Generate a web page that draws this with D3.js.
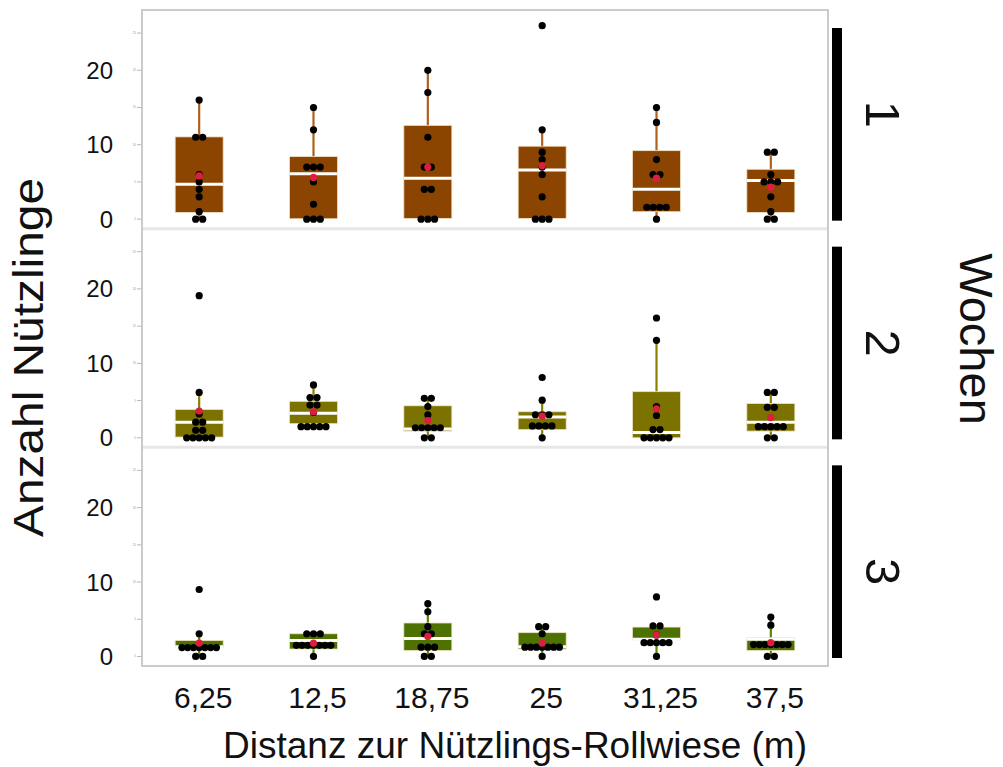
<!DOCTYPE html>
<html>
<head>
<meta charset="utf-8">
<script src="https://cdn.jsdelivr.net/npm/d3@7"></script>
<style>
  body { margin: 0; background: #fff; }
  text { font-family: "Liberation Sans", Arial, sans-serif; }
</style>
</head>
<body>
<svg id="chart" width="1003" height="767"></svg>
<script>
// Categories: distance to the flower strip, and sampling week
const distances = ["6,25", "12,5", "18,75", "25", "31,25", "37,5"];
const weeks = ["1", "2", "3"];

// Axis ticks
const yTicks = [0, 5, 10, 15, 20, 25];
const yLabelTicks = [0, 10, 20];

// Individual counts per week (rows) and distance (columns)
const points = [
  [
    [0, 0, 1, 3, 4, 5, 6, 11, 11, 16],
    [0, 0, 0, 2, 5, 7, 7, 7, 12, 15],
    [0, 0, 0, 4, 4, 7, 7, 11, 17, 20],
    [0, 0, 0, 3, 6, 7, 8, 9, 12, 26],
    [0, 1.6, 1.6, 1.6, 1.6, 6, 6, 8, 13, 15],
    [0, 0, 1, 3, 5, 5, 5, 6, 9, 9]
  ],
  [
    [0, 0, 0, 0, 0, 1, 1, 2.1, 2.1, 3.2, 6.1, 19.1],
    [1.5, 1.5, 1.5, 1.5, 1.5, 3.4, 4.4, 4.4, 5.4, 5.4, 7.1],
    [0, 0, 1.35, 1.35, 1.35, 1.35, 1.35, 3.1, 4.2, 5.3, 5.3],
    [0, 1.6, 1.6, 1.6, 1.6, 3.1, 3.1, 3.1, 5.05, 8.1],
    [0, 0, 0, 0, 0, 1.1, 1.1, 3, 4.2, 13.1, 16.1],
    [0, 0, 1.5, 1.5, 1.5, 1.5, 1.5, 4.1, 4.1, 6.1, 6.1]
  ],
  [
    [0, 0, 1.2, 1.2, 1.2, 1.2, 1.2, 1.2, 1.2, 3.05, 9],
    [0, 1.5, 1.5, 1.5, 1.5, 1.5, 1.5, 1.5, 3.05, 3.05, 3.05],
    [0, 0, 1.25, 1.25, 1.25, 3.05, 3.05, 4, 6, 7.1],
    [0, 1.25, 1.25, 1.25, 1.25, 1.25, 1.25, 1.25, 3.05, 4, 4],
    [0, 1.85, 1.85, 1.85, 1.85, 1.85, 2.9, 4.1, 4.1, 8],
    [0, 0, 1.6, 1.6, 1.6, 1.6, 1.6, 1.6, 1.6, 4.2, 5.3]
  ]
];

// Box statistics per week and distance
const q1 = [
  [0.9, 0.05, 0.1, 0.1, 1.0, 0.9],
  [0.1, 1.9, 0.9, 1.1, 0.0, 0.9],
  [1.2, 1.0, 0.8, 1.0, 2.2, 0.8]
];
const medians = [
  [4.7, 6.1, 5.5, 6.6, 4.0, 5.2],
  [2.1, 3.3, 1.2, 2.8, 0.7, 2.1],
  [1.3, 2.15, 2.4, 1.3, 2.3, 2.3]
];
const q3 = [
  [11.05, 8.4, 12.6, 9.8, 9.2, 6.7],
  [3.8, 4.9, 4.3, 3.5, 6.2, 4.6],
  [2.15, 3.05, 4.5, 3.2, 3.95, 2.5]
];
const whiskerLow = [
  [0, 0, 0, 0, 0, 0],
  [0, 1.5, 0, 0, 0, 0],
  [0, 0, 0, 0, 0, 0]
];
const whiskerHigh = [
  [16, 15, 20, 12, 15, 9],
  [6.1, 7.1, 5.3, 5.05, 13.1, 6.1],
  [3.05, 3.05, 7.1, 4, 4.1, 5.3]
];
const means = [
  [5.8, 5.6, 7.0, 7.2, 5.5, 4.3],
  [3.6, 3.5, 2.3, 2.9, 3.9, 2.7],
  [1.8, 1.8, 2.7, 1.8, 2.9, 1.85]
];

// Styling per week
const boxFill = ["#8b4500", "#7b7200", "#4e7200"];
const whiskerColor = ["#b0601c", "#8a8000", "#5c8800"];

const svg = d3.select("#chart");

const plotLeft = 142, plotRight = 828, plotTop = 10, plotBottom = 666;

const x = d3.scaleBand().domain(distances).range([plotLeft, plotRight]).padding(0);
const panel = d3.scaleBand().domain(weeks).range([plotTop, plotBottom]).padding(0);
const boxWidth = x.bandwidth() * 0.42;
const r = 3.6;

weeks.forEach((wk, wi) => {
  const top = panel(wk), bottom = top + panel.bandwidth();
  const y = d3.scaleLinear().domain([-1.28, 28.1]).range([bottom, top]);
  const g = svg.append("g").attr("class", "panel-" + wk);

  // small tick marks and their tiny labels
  g.selectAll(".tick").data(yTicks).join("line")
    .attr("x1", plotLeft - 5).attr("x2", plotLeft)
    .attr("y1", d => y(d)).attr("y2", d => y(d))
    .attr("stroke", "#b8b8b8").attr("stroke-width", 1);
  g.selectAll(".tinylab").data(yTicks).join("text")
    .attr("x", plotLeft - 6).attr("y", d => y(d))
    .attr("text-anchor", "end").attr("dominant-baseline", "central")
    .attr("font-size", 3).attr("fill", "#999")
    .text(d => d);

  // tick labels
  g.selectAll(".ylab").data(yLabelTicks).join("text")
    .attr("x", 113).attr("y", d => y(d))
    .attr("text-anchor", "end").attr("dominant-baseline", "central")
    .attr("font-size", 24).attr("fill", "#111")
    .text(d => d);

  distances.forEach((dist, di) => {
    const cx = x(dist) + x.bandwidth() / 2;
    const gg = g.append("g");

    // whisker
    gg.append("line")
      .attr("x1", cx).attr("x2", cx)
      .attr("y1", y(whiskerLow[wi][di])).attr("y2", y(whiskerHigh[wi][di]))
      .attr("stroke", whiskerColor[wi]).attr("stroke-width", 2.2);

    // box
    gg.append("rect")
      .attr("x", cx - boxWidth / 2).attr("width", boxWidth)
      .attr("y", y(q3[wi][di])).attr("height", y(q1[wi][di]) - y(q3[wi][di]))
      .attr("fill", boxFill[wi])
      .attr("stroke", "#efe2c4").attr("stroke-width", 0.8);

    // median
    gg.append("line")
      .attr("x1", cx - boxWidth / 2).attr("x2", cx + boxWidth / 2)
      .attr("y1", y(medians[wi][di])).attr("y2", y(medians[wi][di]))
      .attr("stroke", "#fff").attr("stroke-width", 3);

    // individual values, spread sideways where they coincide
    const groups = d3.group(points[wi][di], v => v);
    const placed = [];
    groups.forEach((vals, v) => {
      const k = vals.length;
      const sp = 7.5 - 0.25 * k;
      vals.forEach((_, i) => placed.push({ v, dx: (i - (k - 1) / 2) * sp }));
    });
    gg.selectAll(".pt").data(placed).join("circle")
      .attr("cx", d => cx + d.dx).attr("cy", d => y(d.v))
      .attr("r", r).attr("fill", "#000");

    // mean
    gg.append("circle")
      .attr("cx", cx).attr("cy", y(means[wi][di]))
      .attr("r", r).attr("fill", "#dc1f3f");
  });

  // strip: bar and week number
  const barTop = top + 18, barBottom = bottom - 8;
  svg.append("rect")
    .attr("x", 832).attr("width", 10)
    .attr("y", barTop).attr("height", barBottom - barTop)
    .attr("fill", "#000");
  const my = (barTop + barBottom) / 2 + (wi - 1) * 10;
  svg.append("text")
    .attr("transform", `translate(866,${my}) rotate(90)`)
    .attr("text-anchor", "middle")
    .attr("font-size", 49).attr("fill", "#111")
    .text(wk);
});

// panel separators
svg.selectAll(".sep").data(weeks.slice(1)).join("line")
  .attr("x1", plotLeft).attr("x2", plotRight)
  .attr("y1", d => panel(d)).attr("y2", d => panel(d))
  .attr("stroke", "#e6e6e6").attr("stroke-width", 3);

// outer frame
svg.append("rect")
  .attr("x", plotLeft).attr("y", plotTop)
  .attr("width", plotRight - plotLeft).attr("height", plotBottom - plotTop)
  .attr("fill", "none").attr("stroke", "#c6c6c6").attr("stroke-width", 1.8);

// x axis labels
svg.selectAll(".xlab").data(distances).join("text")
  .attr("x", d => x(d) + x.bandwidth() / 2 + 4).attr("y", 708)
  .attr("text-anchor", "middle").attr("font-size", 30).attr("fill", "#111")
  .text(d => d);

// axis titles
svg.append("text")
  .attr("x", 515).attr("y", 758)
  .attr("text-anchor", "middle").attr("font-size", 37).attr("fill", "#111")
  .text("Distanz zur Nützlings-Rollwiese (m)");

svg.append("text")
  .attr("transform", "translate(43,357.5) rotate(-90)")
  .attr("text-anchor", "middle").attr("font-size", 42).attr("fill", "#111")
  .attr("textLength", 359).attr("lengthAdjust", "spacingAndGlyphs")
  .text("Anzahl Nützlinge");

svg.append("text")
  .attr("transform", "translate(960,339) rotate(90)")
  .attr("text-anchor", "middle").attr("font-size", 47).attr("fill", "#111")
  .text("Wochen");
</script>
</body>
</html>
